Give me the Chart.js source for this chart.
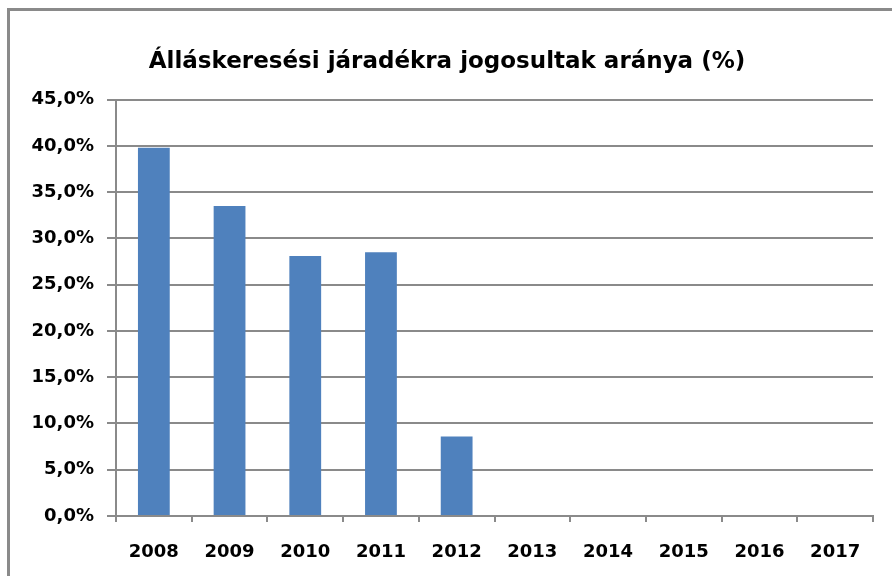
<!DOCTYPE html>
<html>
<head>
<meta charset="utf-8">
<script src="https://cdn.jsdelivr.net/npm/chart.js@4"></script>
<style>
  body { margin: 0; background: #fff; }
  #wrap { position: relative; width: 892px; height: 576px; }
  #frame { position: absolute; left: 7px; top: 8px; right: -10px; bottom: -10px;
           border-top: 3px solid #8a8a8a; border-left: 3px solid #8a8a8a; pointer-events: none; }
</style>
</head>
<body>
<div id="wrap">
  <canvas id="chart" width="892" height="576"></canvas>
  <div id="frame"></div>
</div>
<script>
const years = ['2008', '2009', '2010', '2011', '2012', '2013', '2014', '2015', '2016', '2017'];
const shares = [39.8, 33.5, 28.1, 28.5, 8.6, null, null, null, null, null];
const titleText = 'Álláskeresési járadékra jogosultak aránya (%)';

const tickFont = { family: 'DejaVu Sans', size: 18, weight: 'bold' };

const ctx = document.getElementById('chart').getContext('2d');
const chart = new Chart(ctx, {
    type: 'bar',
    data: {
        labels: years,
        datasets: [{
            label: titleText,
            data: shares,
            backgroundColor: '#4f81bd',
            barPercentage: 0.42,
            categoryPercentage: 1
        }]
    },
    options: {
        responsive: false,
        animation: false,
        layout: { padding: { left: 21, right: 19, top: 0, bottom: 0 } },
        plugins: {
            legend: { display: false },
            tooltip: { enabled: false },
            title: {
                display: true,
                text: titleText,
                color: '#000',
                font: { family: 'DejaVu Sans', size: 23, weight: 'bold' },
                padding: { top: 48, bottom: 24 }
            }
        },
        scales: {
            x: {
                grid: { drawOnChartArea: false, drawTicks: true, tickLength: 6, color: '#8a8a8a', lineWidth: 2, offset: true },
                border: { color: '#8a8a8a', width: 2 },
                ticks: { color: '#000', padding: 20, maxRotation: 0, font: tickFont },
                afterFit: s => { s.height = 60; }
            },
            y: {
                min: 0,
                max: 45,
                grid: { color: '#8a8a8a', lineWidth: 2, tickLength: 9 },
                border: { color: '#8a8a8a', width: 2 },
                ticks: {
                    stepSize: 5,
                    color: '#000',
                    padding: 13,
                    font: tickFont,
                    callback: v => v.toFixed(1).replace('.', ',') + '%'
                },
                afterFit: s => { s.width = 95; }
            }
        }
    }
});
</script>
</body>
</html>
